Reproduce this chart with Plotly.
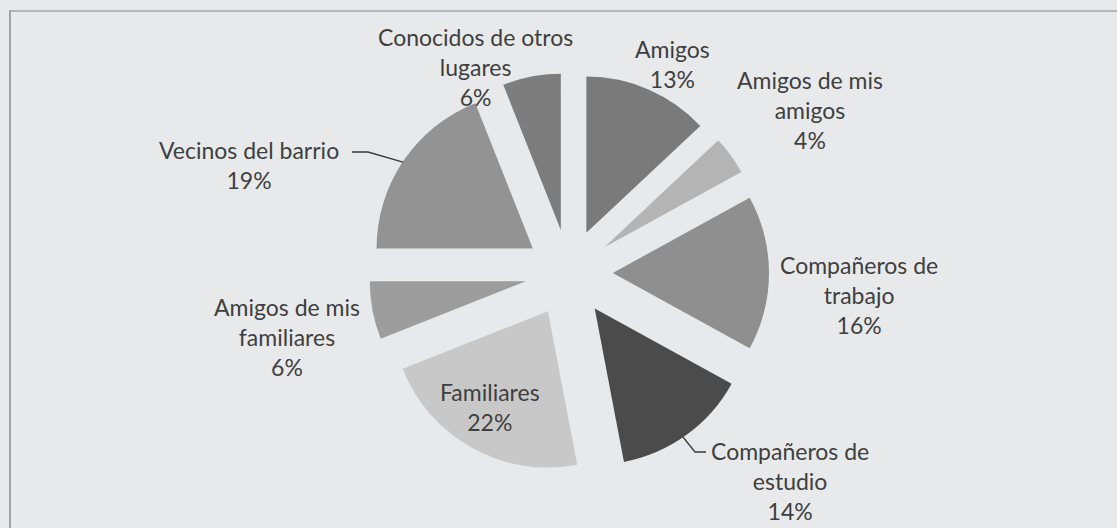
import plotly.graph_objects as go

W, H = 1117, 528

# Share of contacts by group (%), clockwise from 12 o'clock
categories = [
    "Amigos",
    "Amigos de mis amigos",
    "Compañeros de trabajo",
    "Compañeros de estudio",
    "Familiares",
    "Amigos de mis familiares",
    "Vecinos del barrio",
    "Conocidos de otros lugares",
]
values = [13, 4, 16, 14, 22, 6, 19, 6]

# Wrapped form of each category as printed beside its slice
label_text = [
    "Amigos",
    "Amigos de mis<br>amigos",
    "Compañeros de<br>trabajo",
    "Compañeros de<br>estudio",
    "Familiares",
    "Amigos de mis<br>familiares",
    "Vecinos del barrio",
    "Conocidos de otros<br>lugares",
]

slice_colors = ["#7a7a7a", "#b4b4b4", "#8f8f8f", "#4b4b4b",
                "#c8c8c8", "#9d9d9d", "#939393", "#7d7d7d"]

# label anchor points in pixels (centre of each text block)
label_px = [(672, 64), (810, 110), (859, 295), (790, 481),
            (490, 407), (287, 337), (249, 165), (476, 67)]


def px(x, y):
    return x / W, 1 - y / H


cx, cy, outer = 569, 273, 200
dx0, dy0 = px(cx - outer, cy + outer)
dx1, dy1 = px(cx + outer, cy - outer)

fig = go.Figure(go.Pie(
    labels=categories,
    values=values,
    sort=False,
    direction="clockwise",
    rotation=0,
    pull=[0.28] * len(values),
    marker=dict(colors=slice_colors, line=dict(width=0)),
    textinfo="none",
    hoverinfo="label+percent",
    showlegend=False,
    domain=dict(x=[dx0, dx1], y=[dy0, dy1]),
))

annotations = []
for txt, v, (lx, ly) in zip(label_text, values, label_px):
    ax, ay = px(lx, ly)
    annotations.append(dict(
        x=ax, y=ay, xref="paper", yref="paper",
        text=f"{txt}<br>{v}%", showarrow=False,
        xanchor="center", yanchor="middle", align="center",
        font=dict(family="Lato, 'Open Sans', sans-serif", size=23, color="#3f3f3f"),
    ))


def path(points):
    parts = []
    for i, (x, y) in enumerate(points):
        a, b = px(x, y)
        parts.append(("M" if i == 0 else "L") + f" {a:.5f} {b:.5f}")
    return " ".join(parts)


shapes = [
    # frame of the chart area
    dict(type="path", xref="paper", yref="paper",
         path=path([(9, 11), (W + 2, 11)]), line=dict(color="#a3a3a3", width=1.5)),
    dict(type="path", xref="paper", yref="paper",
         path=path([(10, 11), (10, H + 2)]), line=dict(color="#8a8a8a", width=1.5)),
    # leader lines
    dict(type="path", xref="paper", yref="paper",
         path=path([(352, 152), (368, 152), (403, 162)]), line=dict(color="#3a3a3a", width=1.3)),
    dict(type="path", xref="paper", yref="paper",
         path=path([(683, 437), (695, 452), (706, 452)]), line=dict(color="#3a3a3a", width=1.3)),
]

fig.update_layout(
    width=W, height=H,
    margin=dict(l=0, r=0, t=0, b=0),
    paper_bgcolor="#e7e9eb",
    plot_bgcolor="#e7e9eb",
    annotations=annotations,
    shapes=shapes,
)

fig.write_html("out.html")
